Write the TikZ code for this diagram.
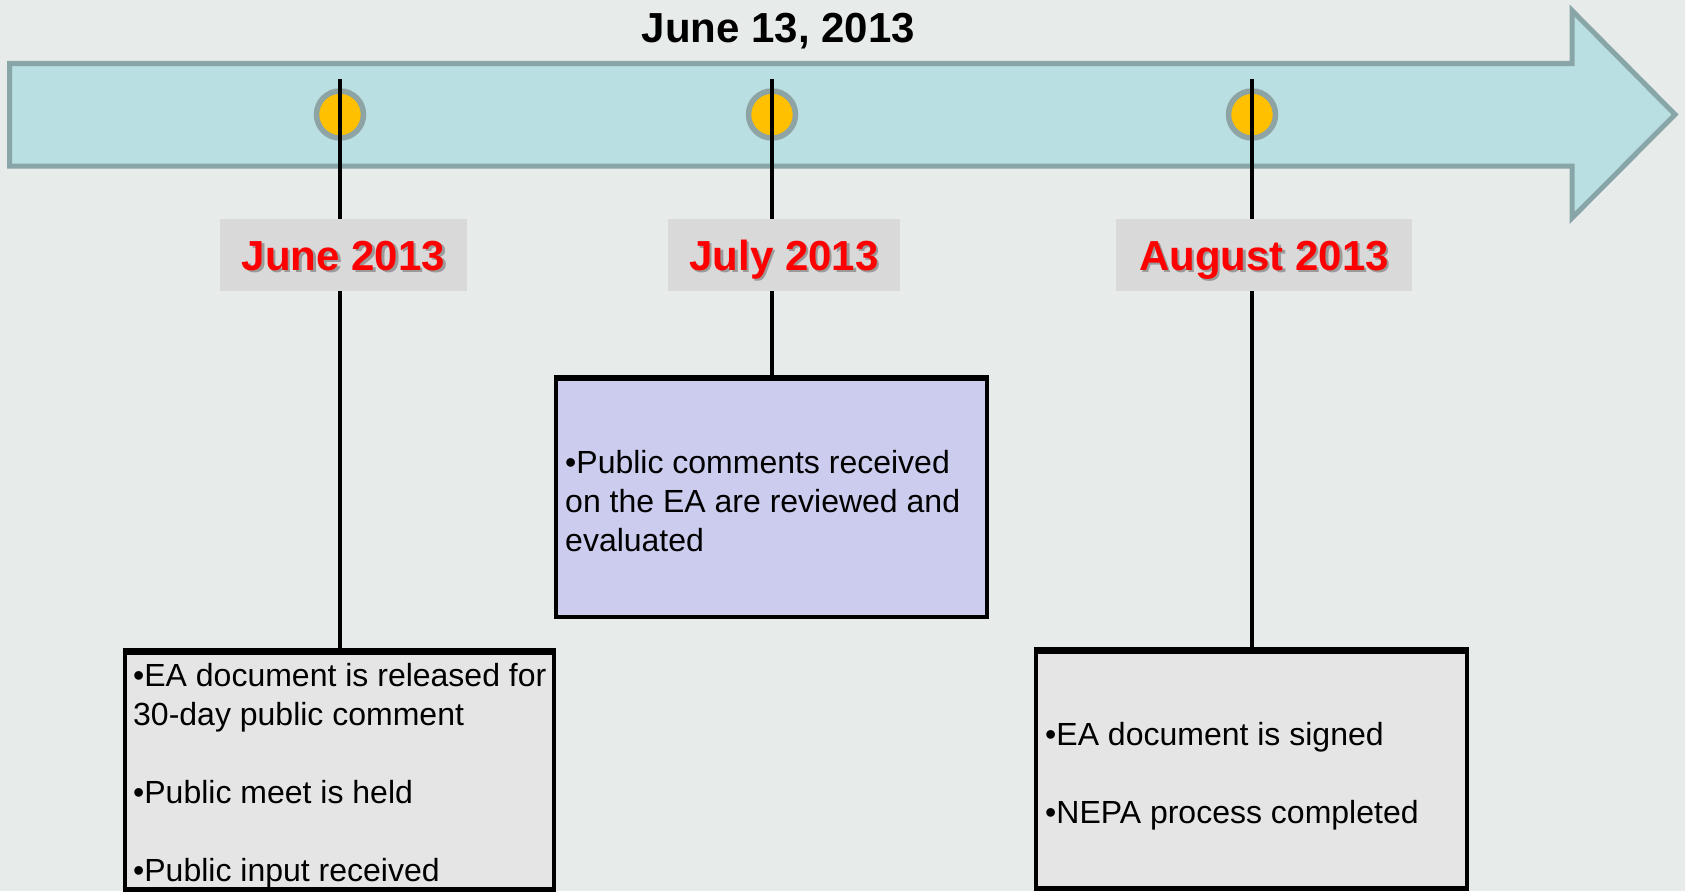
\documentclass[tikz,border=0pt]{standalone}
\usepackage{fontspec}
\setmainfont{Liberation Sans}
\usetikzlibrary{calc}
\definecolor{bgc}{HTML}{E7EBEA}
\definecolor{arrowfill}{HTML}{B9DFE2}
\definecolor{arrowline}{HTML}{88A5A7}
\definecolor{dotfill}{HTML}{FFC000}
\definecolor{dotline}{HTML}{8DA3A4}
\definecolor{labfill}{HTML}{D9D9D9}
\definecolor{labred}{HTML}{FF0000}
\definecolor{shadowc}{HTML}{9A9A9A}
\definecolor{boxgray}{HTML}{E5E5E5}
\definecolor{boxlav}{HTML}{CCCCEE}
\newcommand\shadowed[1]{\rlap{\hspace{2.5pt}\raisebox{-2.5pt}{\textcolor{shadowc}{#1}}}#1}
\begin{document}
\begin{tikzpicture}[x=1pt,y=-1pt,
  timearrow/.style={draw=arrowline,line width=5pt,fill=arrowfill,line join=miter},
  dot/.style={circle,draw=dotline,line width=5.5pt,fill=dotfill,minimum size=47pt,inner sep=0pt},
  conn/.style={draw=black,line width=4.5pt},
  datelabel/.style={rectangle,fill=labfill,inner sep=0pt,text=labred,
     font=\fontsize{42}{50}\selectfont\bfseries,text height=30pt,text depth=0pt},
  infobox/.style={rectangle,draw=black,line width=4.5pt,inner sep=0pt},
  infotext/.style={anchor=north west,inner sep=0pt,align=left,
     font=\fontsize{32}{39}\selectfont},
  titletext/.style={anchor=base,inner sep=0pt,font=\fontsize{42}{50}\selectfont\bfseries}
]
\useasboundingbox (0,0) rectangle (1685,891);
\fill[bgc] (0,0) rectangle (1685,891);

% title
\node[titletext] (title) at (778.5,43) {June 13, 2013};

% timeline arrow
\draw[timearrow] (9.5,63.5) -- (1572,63.5) -- (1572,10.5) -- (1675,114.5)
   -- (1572,218) -- (1572,166) -- (9.5,166) -- cycle;

% milestone dots
\node[dot] (d1) at (340,114.5) {};
\node[dot] (d2) at (772,114.5) {};
\node[dot] (d3) at (1252,114.5) {};

% boxes
\node[infobox,fill=boxgray,minimum width=429pt,minimum height=237pt] (b1) at (339.5,771) {};
\node[infobox,fill=boxlav,minimum width=431pt,minimum height=238pt] (b2) at (771.5,498) {};
\node[infobox,fill=boxgray,minimum width=431pt,minimum height=237pt] (b3) at (1251.5,770) {};

% connector tops
\coordinate (t1) at (340,79);
\coordinate (t2) at (772,79);
\coordinate (t3) at (1252,79);

\draw[conn] (t1) -- (b1.north -| t1);
\draw[conn] (t2) -- (b2.north -| t2);
\draw[conn] (t3) -- (b3.north -| t3);

% redraw box borders over connector ends
\draw[black,line width=4.5pt] (b1.north west) -- (b1.north east);
\draw[black,line width=4.5pt] (b2.north west) -- (b2.north east);
\draw[black,line width=4.5pt] (b3.north west) -- (b3.north east);

% date labels
\node[datelabel,minimum width=247pt,minimum height=72pt] (l1) at (343.5,255) {\shadowed{June 2013}};
\node[datelabel,minimum width=232pt,minimum height=72pt] (l2) at (784,255) {\shadowed{July 2013}};
\node[datelabel,minimum width=296pt,minimum height=72pt] (l3) at (1264,255) {\shadowed{August 2013}};

% box texts
\node[infotext] (x1) at (133,659) {\strut•EA document is released for\\30-day public comment\\[39pt]•Public meet is held\\[39pt]•Public input received};
\node[infotext] (x2) at (565,445.5) {\strut•Public comments received\\on the EA are reviewed and\\evaluated};
\node[infotext] (x3) at (1045,718) {\strut•EA document is signed\\[39pt]•NEPA process completed};
\end{tikzpicture}
\end{document}
